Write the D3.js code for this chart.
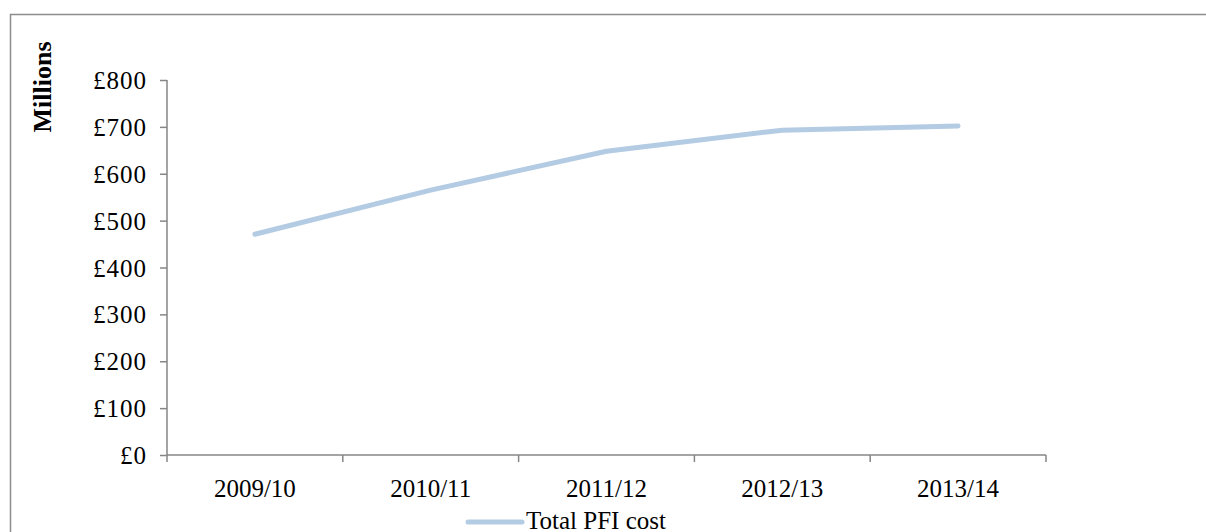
<!DOCTYPE html>
<html>
<head>
<meta charset="utf-8">
<script src="https://cdn.jsdelivr.net/npm/d3@7"></script>
<style>
  html, body { margin: 0; padding: 0; background: #fff; }
  svg { display: block; }
  text { font-family: "Liberation Serif", "Times New Roman", serif; fill: #000; }
</style>
</head>
<body>
<svg id="chart" width="1206" height="532"></svg>
<script>
// Total PFI cost by financial year (£ millions)
const years = ["2009/10", "2010/11", "2011/12", "2012/13", "2013/14"];
const totalPfiCost = [471, 565, 648, 693, 702];
const yTicks = [0, 100, 200, 300, 400, 500, 600, 700, 800];
const seriesName = "Total PFI cost";

const svg = d3.select("#chart");
const axisColor = "#868686";
const lineColor = "#b3cbe3";
const fontSize = 25;

// Chart frame (runs off the right and bottom edges)
svg.append("rect")
  .attr("x", 10.5).attr("y", 14.5)
  .attr("width", 1220).attr("height", 540)
  .attr("fill", "none").attr("stroke", "#8c8c8c").attr("stroke-width", 1.5);

const plot = { left: 167, right: 1046, top: 80, bottom: 455 };

const x = d3.scaleBand().domain(years).range([plot.left, plot.right]).padding(0);
const y = d3.scaleLinear().domain([0, 800]).range([plot.bottom, plot.top]);

// Y axis
const yAxis = svg.append("g")
  .attr("transform", `translate(${plot.left},0)`)
  .call(d3.axisLeft(y).tickValues(yTicks).tickSize(7).tickPadding(13)
    .tickFormat(d => "£" + d));
yAxis.select(".domain").attr("stroke", axisColor).attr("stroke-width", 1.5)
  .attr("d", `M0,${plot.top}V${plot.bottom}`);
yAxis.selectAll(".tick line").attr("stroke", axisColor).attr("stroke-width", 1.5);
yAxis.selectAll(".tick text").attr("font-size", fontSize)
  .attr("font-family", "Liberation Serif, serif").attr("fill", "#000").attr("dy", "0.34em")
  .attr("letter-spacing", 1);

// X axis with ticks at category boundaries
const xAxis = svg.append("g")
  .attr("transform", `translate(0,${plot.bottom})`);
xAxis.append("path")
  .attr("d", `M${plot.left},0H${plot.right}`)
  .attr("stroke", axisColor).attr("stroke-width", 1.5).attr("fill", "none");
const boundaries = years.map(d => x(d)).concat([x(years[years.length - 1]) + x.bandwidth()]);
xAxis.selectAll("line.bound").data(boundaries).join("line")
  .attr("class", "bound")
  .attr("x1", d => d).attr("x2", d => d)
  .attr("y1", 0).attr("y2", 7)
  .attr("stroke", axisColor).attr("stroke-width", 1.5);
xAxis.selectAll("text.cat").data(years).join("text")
  .attr("class", "cat")
  .attr("x", d => x(d) + x.bandwidth() / 2)
  .attr("y", 42)
  .attr("text-anchor", "middle")
  .attr("font-size", fontSize)
  .text(d => d);

// Axis title
svg.append("text")
  .attr("transform", `translate(51,87) rotate(-90)`)
  .attr("text-anchor", "middle")
  .attr("font-size", 26)
  .attr("font-weight", "bold")
  .text("Millions");

// Series line
const line = d3.line()
  .x((d, i) => x(years[i]) + x.bandwidth() / 2)
  .y(d => y(d));
svg.append("path")
  .datum(totalPfiCost)
  .attr("d", line)
  .attr("fill", "none")
  .attr("stroke", lineColor)
  .attr("stroke-width", 5)
  .attr("stroke-linecap", "round")
  .attr("stroke-linejoin", "round");

// Legend
const legend = svg.append("g").attr("transform", "translate(468,522)");
legend.append("line")
  .attr("x1", 0).attr("x2", 54).attr("y1", 0).attr("y2", 0)
  .attr("stroke", lineColor).attr("stroke-width", 5).attr("stroke-linecap", "round");
legend.append("text")
  .attr("x", 58).attr("y", 7)
  .attr("font-size", fontSize)
  .text(seriesName);
</script>
</body>
</html>
